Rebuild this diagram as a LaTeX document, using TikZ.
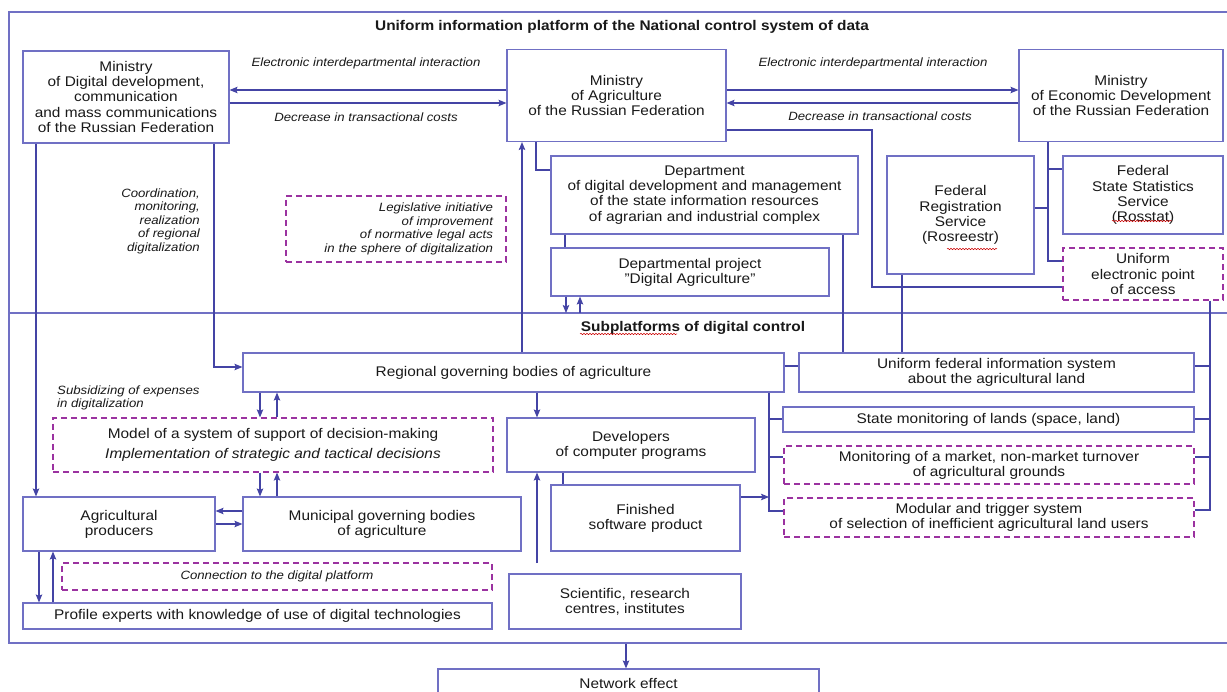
\documentclass[tikz,border=0pt]{standalone}
\usepackage{fontspec}
\setmainfont{Liberation Sans}[FakeStretch=1.1]
\usetikzlibrary{arrows.meta,decorations.pathmorphing}
\definecolor{ln}{RGB}{68,68,165}
\definecolor{bx}{RGB}{112,112,196}
\definecolor{pur}{RGB}{155,50,160}
\definecolor{txt}{RGB}{25,25,25}
\newcommand\mtxt{\fontsize{14}{15.2}\selectfont}
\newcommand\ltxt{\fontsize{12}{13.5}\selectfont\itshape}
\newcommand\mybox[7]{\node[#6, minimum width={#4-#2}, minimum height={#5-#3}] (#1) at ({(#2+#4)/2},{(#3+#5)/2}) {#7};}
\tikzset{
 box/.style={draw=bx, line width=1.1pt, align=center, inner sep=1pt, text=txt, font=\mtxt},
 dbox/.style={box, draw=pur, dash pattern=on 6pt off 4pt, line width=1.2pt},
 lnk/.style={draw=ln, line width=1.1pt},
 arr/.style={lnk, -{Stealth[length=8pt,width=6.5pt,inset=1.5pt]}},
 lab/.style={font=\ltxt, text=txt, inner sep=0pt},
 squig/.style={draw=red!80!black, line width=0.5pt, decorate, decoration={snake, amplitude=0.7pt, segment length=3pt}},
}
\begin{document}
\begin{tikzpicture}[x=1pt,y=-1pt]
\clip (0,0) rectangle (1227,692);
\fill[white] (0,0) rectangle (1227,692);
% frame
\mybox{frame}{9}{12}{1240}{643}{box}{}
\draw[draw=bx, line width=1.1pt] (frame.west |- 0,313) -- (frame.east |- 0,313);
\node[font=\bfseries\mtxt, text=txt, inner sep=0pt] (title) at (622,27) {Uniform information platform of the National control system of data};
\node[font=\bfseries\mtxt, text=txt, inner sep=0pt] (sub) at (693,328) {Subplatforms of digital control};
% boxes
\mybox{mindig}{23}{51}{229}{143}{box}{Ministry\\of Digital development,\\communication\\and mass communications\\of the Russian Federation}
\mybox{minagr}{507}{51}{726}{143}{box, yshift=1.5pt}{Ministry\\of Agriculture\\of the Russian Federation}
\mybox{minecon}{1019}{51}{1223}{143}{box, yshift=1.5pt}{Ministry\\of Economic Development\\of the Russian Federation}
\mybox{dept}{551}{156}{858}{234}{box}{Department\\of digital development and management\\of the state information resources\\of agrarian and industrial complex}
\mybox{proj}{551}{248}{829}{296}{box}{Departmental project\\"Digital Agriculture"}
\mybox{rosr}{887}{156}{1034}{274}{box}{Federal\\Registration\\Service\\(Rosreestr)}
\mybox{rosst}{1063}{156}{1223}{234}{box}{Federal\\State Statistics\\Service\\(Rosstat)}
\mybox{uepa}{1063}{248}{1223}{300}{dbox}{Uniform\\electronic point\\of access}
\mybox{legis}{286}{196}{506}{262}{dbox, font=\ltxt, text width=194pt, align=right}{Legislative initiative\\of improvement\\of normative legal acts\\in the sphere of digitalization}
\mybox{regio}{243}{353}{784}{392}{box}{Regional governing bodies of agriculture}
\mybox{ufis}{799}{353}{1194}{392}{box}{Uniform federal information system\\about the agricultural land}
\mybox{smon}{783}{407}{1194}{432}{box}{State monitoring of lands (space, land)}
\mybox{mmkt}{784}{446}{1194}{484}{dbox}{Monitoring of a market, non-market turnover\\of agricultural grounds}
\mybox{modu}{784}{498}{1194}{537}{dbox}{Modular and trigger system\\of selection of inefficient agricultural land users}
\mybox{model}{53}{418}{493}{472}{dbox}{Model of a system of support of decision-making\\[5pt]\itshape Implementation of strategic and tactical decisions}
\mybox{devel}{507}{418}{755}{472}{box}{Developers\\of computer programs}
\mybox{fin}{551}{485}{740}{551}{box}{Finished\\software product}
\mybox{sci}{509}{574}{741}{629}{box}{Scientific, research\\centres, institutes}
\mybox{agri}{23}{497}{215}{551}{box}{Agricultural\\producers}
\mybox{muni}{243}{497}{521}{551}{box}{Municipal governing bodies\\of agriculture}
\mybox{conn}{62}{563}{492}{590}{dbox, font=\ltxt}{Connection to the digital platform}
\mybox{prof}{23}{603}{492}{629}{box}{Profile experts with knowledge of use of digital technologies}
\mybox{net}{438}{669}{819}{697}{box}{Network effect}
% labels
\node[lab] (l1) at (366,63) {Electronic interdepartmental interaction};
\node[lab] (l2) at (366,117) {Decrease in transactional costs};
\node[lab] (l3) at (873,63) {Electronic interdepartmental interaction};
\node[lab] (l4) at (880,116) {Decrease in transactional costs};
\node[lab, align=right, anchor=east] (l5) at (200,221) {Coordination,\\monitoring,\\realization\\of regional\\digitalization};
\node[lab, align=left, anchor=west] (l6) at (57,398) {Subsidizing of expenses\\in digitalization};
% spell-check squiggles
\draw[squig] (580,334) -- (677,334);
\draw[squig] (1112,221) -- (1172,221);
\draw[squig] (947,249) -- (997,249);
% ministries
\draw[arr] (minagr.west |- 0,90) -- (mindig.east |- 0,90);
\draw[arr] (mindig.east |- 0,103) -- (minagr.west |- 0,103);
\draw[arr] (minagr.east |- 0,90) -- (minecon.west |- 0,90);
\draw[arr] (minecon.west |- 0,103) -- (minagr.east |- 0,103);
% ministry of agriculture
\draw[lnk] (minagr.south -| 536,0) |- (dept.west |- 0,170);
\draw[lnk] (dept.south -| 565,0) -- (proj.north -| 565,0);
\coordinate (pdn) at (566,313);
\coordinate (pup) at (580,313);
\draw[arr] (proj.south -| pdn) -- (pdn);
\draw[arr] (pup) -- (proj.south -| pup);
\draw[lnk] (dept.south -| 843,0) -- (ufis.north -| 843,0);
\draw[lnk] (rosr.south -| 902,0) -- (ufis.north -| 902,0);
\draw[lnk] (minagr.east |- 0,130) -- (872,130) -- (872,287) -- (uepa.west |- 0,287);
% ministry of economy
\draw[lnk] (minecon.south -| 1048,0) |- (uepa.west |- 0,261);
\coordinate (eb1) at (1048,169);
\coordinate (eb2) at (1048,208);
\draw[lnk] (eb1) -- (rosst.west |- eb1);
\draw[lnk] (eb2) -- (rosr.east |- eb2);
% ministry of digital development
\draw[arr] (mindig.south -| 36,0) -- (agri.north -| 36,0);
\draw[arr] (mindig.south -| 214,0) |- (regio.west |- 0,367);
\draw[arr] (regio.north -| 522,0) -- (minagr.south -| 522,0);
% regional
\draw[lnk] (regio.east |- 0,366) -- (ufis.west |- 0,366);
\draw[lnk] (regio.south -| 769,0) |- (modu.west |- 0,511);
\coordinate (rb1) at (769,419);
\coordinate (rb2) at (769,457);
\draw[lnk] (rb1) -- (smon.west |- rb1);
\draw[lnk] (rb2) -- (mmkt.west |- rb2);
% uniform access bus
\draw[lnk] (uepa.south -| 1210,0) |- (modu.east |- 0,510);
\coordinate (ub1) at (1210,366);
\coordinate (ub2) at (1210,419);
\coordinate (ub3) at (1210,457);
\draw[lnk] (ub1) -- (ufis.east |- ub1);
\draw[lnk] (ub2) -- (smon.east |- ub2);
\draw[lnk] (ub3) -- (mmkt.east |- ub3);
% model
\draw[arr] (regio.south -| 260,0) -- (model.north -| 260,0);
\draw[arr] (model.north -| 277,0) -- (regio.south -| 277,0);
\draw[arr] (model.south -| 260,0) -- (muni.north -| 260,0);
\draw[arr] (muni.north -| 277,0) -- (model.south -| 277,0);
% developers
\draw[arr] (regio.south -| 537,0) -- (devel.north -| 537,0);
\draw[lnk] (devel.south -| 563,0) -- (fin.north -| 563,0);
\coordinate (fb) at (769,497);
\draw[arr] (fin.east |- fb) -- (fb);
\coordinate (sc) at (537,563);
\draw[arr] (sc) -- (devel.south -| sc);
% producers
\draw[arr] (muni.west |- 0,511) -- (agri.east |- 0,511);
\draw[arr] (agri.east |- 0,524) -- (muni.west |- 0,524);
\draw[arr] (agri.south -| 39,0) -- (prof.north -| 39,0);
\draw[arr] (prof.north -| 53,0) -- (agri.south -| 53,0);
% network effect
\draw[arr] (frame.south -| 626,0) -- (net.north -| 626,0);
\end{tikzpicture}
\end{document}
